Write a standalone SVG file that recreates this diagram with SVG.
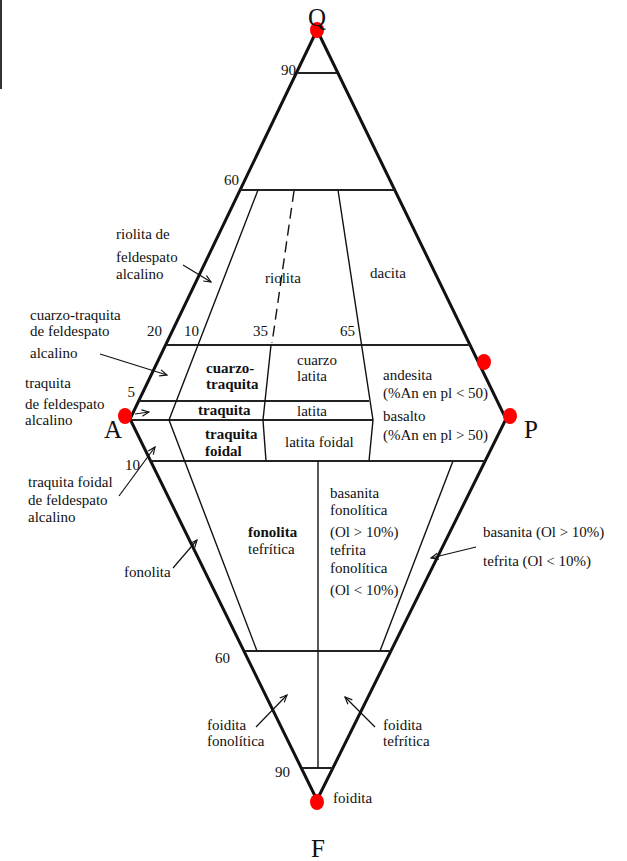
<svg xmlns="http://www.w3.org/2000/svg" width="627" height="861" viewBox="0 0 627 861">
  <defs>
    <marker id="open" viewBox="0 0 10 10" refX="9" refY="5" markerWidth="9" markerHeight="9" orient="auto" markerUnits="userSpaceOnUse">
      <path d="M1,1.5 L9,5 L1,8.5" fill="none" stroke="#111" stroke-width="1.3"/>
    </marker>
  </defs>
  <style>
    text{font-family:"Liberation Serif","Times New Roman",serif;font-size:15px;fill:#111}
    .b{font-weight:bold}
    .v{font-size:25px}
    .edge{fill:none;stroke:#111;stroke-width:3;stroke-linejoin:miter}
    .h{stroke:#222;stroke-width:2;fill:none}
    .in{stroke:#111;stroke-width:1.4;fill:none}
    .dash{stroke:#111;stroke-width:1.4;fill:none;stroke-dasharray:11 6}
    .lead{stroke:#111;stroke-width:1.2;fill:none;marker-end:url(#open)}
    .dot{fill:#ff0000}
  </style>

  <rect x="0" y="0" width="627" height="861" fill="#fff"/>
  <line x1="1" y1="0" x2="1" y2="89" stroke="#333" stroke-width="2"/>

  <!-- QAPF double triangle -->
  <g id="frame">
    <path class="edge" d="M317,30 L130,419 L317,800 L506,419 Z"/>
  </g>

  <!-- field boundaries -->
  <g id="fields">
    <line class="h" x1="297" y1="73" x2="337" y2="73"/>
    <line class="h" x1="240" y1="190" x2="395" y2="190"/>
    <line class="h" x1="166" y1="345" x2="470" y2="345"/>
    <line class="h" x1="139" y1="401" x2="369" y2="401"/>
    <line class="h" x1="131" y1="420" x2="373" y2="420"/>
    <line class="h" x1="151" y1="461" x2="485" y2="461"/>
    <line class="h" x1="245" y1="651" x2="391" y2="651"/>
    <line class="h" x1="302" y1="768" x2="333" y2="768"/>

    <polyline class="in" points="258,190 169,420 257,651"/>
    <line class="dash" x1="294" y1="191" x2="272" y2="343"/>
    <polyline class="in" points="271,345 263,420 266,461"/>
    <polyline class="in" points="338,190 373,420 369,461"/>
    <line class="in" x1="453" y1="461" x2="380" y2="651"/>
    <line class="in" x1="318" y1="461" x2="318" y2="768"/>
  </g>

  <!-- leader arrows -->
  <g id="connectors">
    <line class="lead" x1="183" y1="265" x2="211" y2="282"/>
    <line class="lead" x1="100" y1="354" x2="167" y2="375"/>
    <line class="lead" x1="135" y1="414" x2="149" y2="412"/>
    <line class="lead" x1="119" y1="496" x2="155" y2="447"/>
    <line class="lead" x1="173" y1="568" x2="197" y2="540"/>
    <line class="lead" x1="476" y1="547" x2="431" y2="558"/>
    <line class="lead" x1="256" y1="727" x2="287" y2="695"/>
    <line class="lead" x1="375" y1="727" x2="345" y2="697"/>
  </g>

  <!-- corner points -->
  <g id="vertices">
    <ellipse class="dot" cx="317" cy="30" rx="7" ry="8"/>
    <ellipse class="dot" cx="125" cy="416" rx="7" ry="8"/>
    <ellipse class="dot" cx="510" cy="416" rx="7" ry="8"/>
    <ellipse class="dot" cx="484" cy="362" rx="7" ry="8"/>
    <ellipse class="dot" cx="317" cy="802" rx="7" ry="8"/>
    <text class="v" x="317" y="26" text-anchor="middle">Q</text>
    <text class="v" x="113" y="438" text-anchor="middle">A</text>
    <text class="v" x="531" y="438" text-anchor="middle">P</text>
    <text class="v" x="318" y="857" text-anchor="middle">F</text>
  </g>

  <!-- scale values -->
  <g id="ticks">
    <text x="296" y="75" text-anchor="end">90</text>
    <text x="239" y="185" text-anchor="end">60</text>
    <text x="162" y="336" text-anchor="end">20</text>
    <text x="199" y="336" text-anchor="end">10</text>
    <text x="268" y="336" text-anchor="end">35</text>
    <text x="355" y="336" text-anchor="end">65</text>
    <text x="135" y="397" text-anchor="end">5</text>
    <text x="140" y="470" text-anchor="end">10</text>
    <text x="230" y="663" text-anchor="end">60</text>
    <text x="290" y="777" text-anchor="end">90</text>
  </g>

  <!-- field names -->
  <g id="labels">
    <text x="265" y="283">riolita</text>
    <text x="370" y="278">dacita</text>
    <text class="b" x="206" y="373">cuarzo-</text>
    <text class="b" x="206" y="389">traquita</text>
    <text x="297" y="365">cuarzo</text>
    <text x="297" y="381">latita</text>
    <text class="b" x="198" y="415">traquita</text>
    <text x="297" y="416">latita</text>
    <text class="b" x="205" y="439">traquita</text>
    <text class="b" x="205" y="456">foidal</text>
    <text x="285" y="447">latita foidal</text>
    <text x="383" y="380">andesita</text>
    <text x="383" y="398">(%An en pl &lt; 50)</text>
    <text x="383" y="421">basalto</text>
    <text x="383" y="440">(%An en pl &gt; 50)</text>
    <text class="b" x="248" y="537">fonolita</text>
    <text x="248" y="554">tefrítica</text>
    <text x="330" y="498">basanita</text>
    <text x="330" y="515">fonolítica</text>
    <text x="330" y="537">(Ol &gt; 10%)</text>
    <text x="330" y="555">tefrita</text>
    <text x="330" y="573">fonolítica</text>
    <text x="330" y="595">(Ol &lt; 10%)</text>

    <text x="116" y="239">riolita de</text>
    <text x="116" y="262">feldespato</text>
    <text x="116" y="279">alcalino</text>
    <text x="30" y="320">cuarzo-traquita</text>
    <text x="30" y="336">de feldespato</text>
    <text x="30" y="358">alcalino</text>
    <text x="25" y="388">traquita</text>
    <text x="25" y="409">de feldespato</text>
    <text x="25" y="425">alcalino</text>
    <text x="28" y="487">traquita foidal</text>
    <text x="28" y="505">de feldespato</text>
    <text x="28" y="522">alcalino</text>
    <text x="124" y="577">fonolita</text>
    <text x="483" y="537">basanita (Ol &gt; 10%)</text>
    <text x="483" y="566">tefrita (Ol &lt; 10%)</text>
    <text x="207" y="730">foidita</text>
    <text x="207" y="746">fonolítica</text>
    <text x="383" y="730">foidita</text>
    <text x="383" y="746">tefrítica</text>
    <text x="333" y="803">foidita</text>
  </g>
</svg>
